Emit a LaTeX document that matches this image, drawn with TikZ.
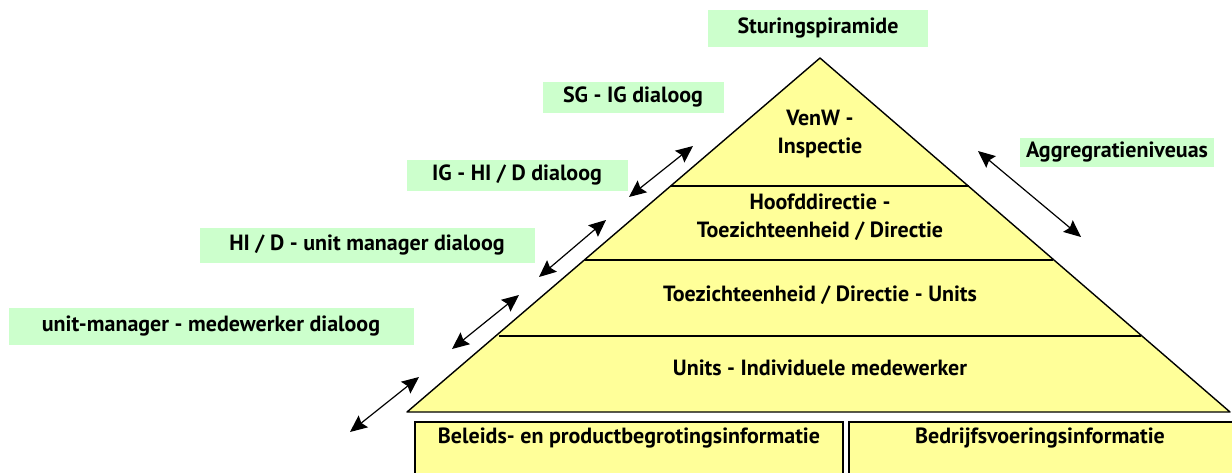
\documentclass[tikz,border=0pt]{standalone}
\usepackage{fontspec}
\setmainfont{PT Sans}
\usetikzlibrary{arrows.meta}
\definecolor{pyr}{HTML}{FFFF99}
\definecolor{lab}{HTML}{CCFFCC}
\begin{document}
\begin{tikzpicture}[x=1pt,y=-1pt,
  every node/.style={font=\bfseries\fontsize{22}{28}\selectfont, inner sep=0pt},
  layer/.style={draw=black, line width=1.4pt},
  dbl/.style={line width=1.2pt, {Stealth[length=17pt,width=15pt,inset=2.5pt]}-{Stealth[length=17pt,width=15pt,inset=2.5pt]}}]
\useasboundingbox (0,0) rectangle (1232,472);
\clip (0,0) rectangle (1232,472);
% pyramid
\coordinate (apex) at (820,58);
\coordinate (bl) at (407,412);
\coordinate (br) at (1230,412);
\fill[pyr] (apex) -- (bl) -- (br) -- cycle;
\draw[layer] (671,186) -- (969,186);
\draw[layer] (585,260) -- (1053,260);
\draw[layer] (499,336) -- (1141,336);
\draw[line width=1.4pt, line join=round] (apex) -- (bl) -- (br) -- cycle;
% layer texts
\node[align=center] (l1) at (820,134) {VenW -\\Inspectie};
\node[align=center] (l2) at (820,217) {Hoofddirectie -\\Toezichteenheid / Directie};
\node (l3) at (820,295) {Toezichteenheid / Directie - Units};
\node (l4) at (820,368) {Units - Individuele medewerker};
% bottom boxes
\draw[fill=pyr, line width=1.4pt] (415,422) rectangle (843,480);
\draw[fill=pyr, line width=1.4pt] (849,422) rectangle (1240,480);
\node (b1) at (629,438) {Beleids- en productbegrotingsinformatie};
\node (b2) at (1040,438) {Bedrijfsvoeringsinformatie};
% green labels
\fill[lab] (708,10) rectangle (928,47);
\node (t) at (818,28) {Sturingspiramide};
\fill[lab] (543,82) rectangle (724,113);
\node (s1) at (633,97) {SG - IG dialoog};
\fill[lab] (407,160) rectangle (628,191);
\node (s2) at (517,175) {IG - HI / D dialoog};
\fill[lab] (200,228) rectangle (535,263);
\node (s3) at (367,245) {HI / D - unit manager dialoog};
\fill[lab] (9,308) rectangle (414,345);
\node (s4) at (211,326) {unit-manager - medewerker dialoog};
\fill[lab] (1020,138) rectangle (1214,167);
\node (ag) at (1117,152) {Aggregratieniveuas};
% arrows
\coordinate (a1s) at (629,197); \coordinate (a1e) at (693,146);
\coordinate (a2s) at (539,277); \coordinate (a2e) at (606,220);
\coordinate (a3s) at (452,349); \coordinate (a3e) at (519,295);
\coordinate (a4s) at (350,432); \coordinate (a4e) at (419,377);
\coordinate (a5s) at (978,151); \coordinate (a5e) at (1081,237);
\draw[dbl] (a1s) -- (a1e);
\draw[dbl] (a2s) -- (a2e);
\draw[dbl] (a3s) -- (a3e);
\draw[dbl] (a4s) -- (a4e);
\draw[dbl] (a5s) -- (a5e);
\end{tikzpicture}
\end{document}
